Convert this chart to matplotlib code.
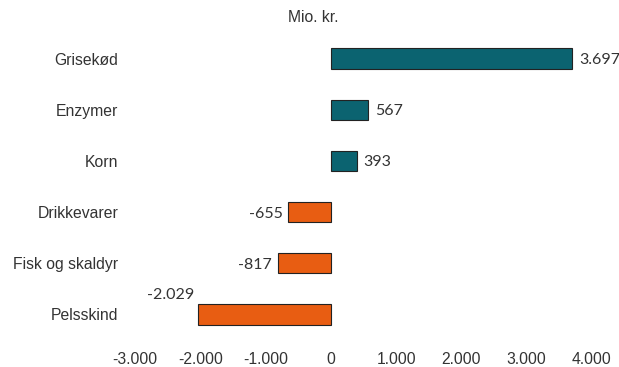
import matplotlib.pyplot as plt

categories = ["Grisekød", "Enzymer", "Korn", "Drikkevarer", "Fisk og skaldyr", "Pelsskind"]
values = [3697, 567, 393, -655, -817, -2029]
value_labels = ["3.697", "567", "393", "-655", "-817", "-2.029"]
xticks = [-3000, -2000, -1000, 0, 1000, 2000, 3000, 4000]
xtick_labels = ["-3.000", "-2.000", "-1.000", "0", "1.000", "2.000", "3.000", "4.000"]

teal = "#0b6370"
orange = "#e85d12"
txt = "#333333"

fig = plt.figure(figsize=(6.19, 3.67), dpi=100)
ax = fig.add_axes([135 / 619, 1 - 340 / 367, (592 - 135) / 619, (340 - 33) / 367])

ypos = list(range(len(categories)))
colors = [teal if v > 0 else orange for v in values]
ax.barh(ypos, values, height=0.4, color=colors, edgecolor="#222222", linewidth=0.8)

for y, v, lab in zip(ypos, values, value_labels):
    if v > 0:
        ax.annotate(lab, (v, y), xytext=(5, 0), textcoords="offset points",
                    ha="left", va="center_baseline", fontsize=11.5, family="Lato", color=txt)
    elif v < -1500:
        ax.annotate(lab, (v, y), xytext=(-3, 9), textcoords="offset points",
                    ha="right", va="bottom", fontsize=11.5, family="Lato", color=txt)
    else:
        ax.annotate(lab, (v, y), xytext=(-4, 0), textcoords="offset points",
                    ha="right", va="center_baseline", fontsize=11.5, family="Lato", color=txt)

ax.set_xlim(-3000, 4000)
ax.set_ylim(len(categories) - 0.5, -0.5)
ax.set_yticks(ypos)
ax.set_yticklabels(categories, fontsize=11.3, family="Liberation Sans", color=txt)
ax.set_xticks(xticks)
ax.set_xticklabels(xtick_labels, fontsize=11.3, family="Liberation Sans", color=txt)
ax.tick_params(axis="y", length=0, pad=12)
ax.tick_params(axis="x", length=0, pad=9)
for s in ax.spines.values():
    s.set_visible(False)

fig.text(313 / 619, 1 - 18 / 367, "Mio. kr.", ha="center", va="center",
         fontsize=11.3, family="Liberation Sans", color=txt)

fig.savefig("out.png", dpi=100)
